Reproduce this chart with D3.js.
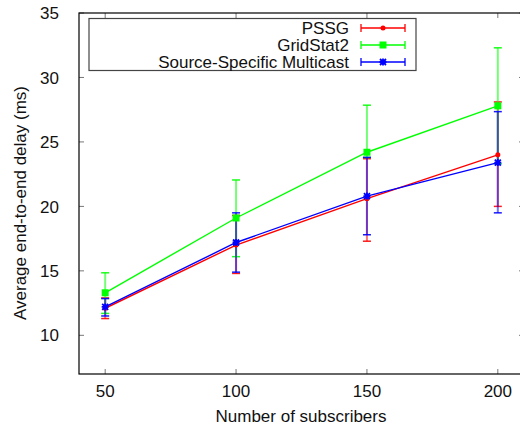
<!DOCTYPE html>
<html>
<head>
<meta charset="utf-8">
<script src="https://cdn.jsdelivr.net/npm/d3@7"></script>
<style>
  body { margin: 0; background: #fff; }
  svg { display: block; font-family: "Liberation Sans", Arial, sans-serif; }
</style>
</head>
<body>
<svg></svg>
<script>
"use strict";

var subscribers = [50, 100, 150, 200];
var xTicks = [50, 100, 150, 200];
var yTicks = [10, 15, 20, 25, 30, 35];

var pssgMean = [12.1, 17.0, 20.6, 24.0];
var pssgLow = [11.3, 14.8, 17.3, 20.0];
var pssgHigh = [12.9, 19.3, 23.7, 28.1];

var gridMean = [13.3, 19.1, 24.2, 27.8];
var gridLow = [11.7, 16.1, 23.8, 23.3];
var gridHigh = [14.85, 22.05, 27.85, 32.3];

var ssmMean = [12.2, 17.2, 20.8, 23.4];
var ssmLow = [11.5, 14.9, 17.8, 19.5];
var ssmHigh = [12.85, 19.5, 23.8, 27.35];

var seriesNames = ["PSSG", "GridStat2", "Source-Specific Multicast"];
var seriesColors = ["#ff0000", "#00ff00", "#0000ff"];

var width = 520,
    height = 429;

var margin = { left: 79, top: 13, right: -4, bottom: 55 };
var fontSize = 17;

var svg = d3.select("svg")
    .attr("width", width)
    .attr("height", height);

var x = d3.scaleLinear()
    .domain([40, 210])
    .range([margin.left, width - margin.right]);

var y = d3.scaleLinear()
    .domain([7, 35])
    .range([height - margin.bottom, margin.top]);

var series = seriesNames.map(function (name, i) {
    var mean = [pssgMean, gridMean, ssmMean][i],
        low = [pssgLow, gridLow, ssmLow][i],
        high = [pssgHigh, gridHigh, ssmHigh][i];
    return {
        name: name,
        color: seriesColors[i],
        kind: i,
        points: subscribers.map(function (s, j) {
            return { x: s, y: mean[j], lo: low[j], hi: high[j] };
        })
    };
});

// frame with inward ticks on all sides
var tickColor = "#777";
var tickLen = 5;

svg.append("g").selectAll("line").data(yTicks).enter().append("line")
    .attr("x1", x(40)).attr("x2", x(40) + tickLen)
    .attr("y1", function (d) { return y(d); }).attr("y2", function (d) { return y(d); })
    .attr("stroke", tickColor);
svg.append("g").selectAll("line").data(yTicks).enter().append("line")
    .attr("x1", x(210)).attr("x2", x(210) - tickLen)
    .attr("y1", function (d) { return y(d); }).attr("y2", function (d) { return y(d); })
    .attr("stroke", tickColor);
svg.append("g").selectAll("line").data(xTicks).enter().append("line")
    .attr("x1", function (d) { return x(d); }).attr("x2", function (d) { return x(d); })
    .attr("y1", y(7)).attr("y2", y(7) - tickLen)
    .attr("stroke", tickColor);
svg.append("g").selectAll("line").data(xTicks).enter().append("line")
    .attr("x1", function (d) { return x(d); }).attr("x2", function (d) { return x(d); })
    .attr("y1", y(35)).attr("y2", y(35) + tickLen)
    .attr("stroke", tickColor);

svg.append("rect")
    .attr("x", x(40)).attr("y", y(35))
    .attr("width", x(210) - x(40)).attr("height", y(7) - y(35))
    .attr("fill", "none")
    .attr("stroke", "#000")
    .attr("stroke-width", 1.2);

// tick labels
svg.append("g").selectAll("text").data(yTicks).enter().append("text")
    .attr("x", x(40) - 20)
    .attr("y", function (d) { return y(d); })
    .attr("dy", "0.36em")
    .attr("text-anchor", "end")
    .attr("font-size", fontSize)
    .attr("fill", "#111")
    .text(function (d) { return d; });

svg.append("g").selectAll("text").data(xTicks).enter().append("text")
    .attr("x", function (d) { return x(d); })
    .attr("y", 397)
    .attr("text-anchor", "middle")
    .attr("font-size", fontSize)
    .attr("fill", "#111")
    .text(function (d) { return d; });

// axis titles
svg.append("text")
    .attr("x", 301)
    .attr("y", 422)
    .attr("text-anchor", "middle")
    .attr("font-size", fontSize)
    .attr("fill", "#111")
    .text("Number of subscribers");

svg.append("text")
    .attr("transform", "translate(26," + 203 + ") rotate(-90)")
    .attr("text-anchor", "middle")
    .attr("font-size", fontSize)
    .attr("fill", "#111")
    .text("Average end-to-end delay (ms)");

var line = d3.line()
    .x(function (d) { return x(d.x); })
    .y(function (d) { return y(d.y); });

function drawMarker(g, kind, color) {
    if (kind === 0) {
        g.append("circle").attr("r", 2.5).attr("fill", color);
    } else if (kind === 1) {
        g.append("rect").attr("x", -3.5).attr("y", -3.5)
            .attr("width", 7).attr("height", 7).attr("fill", color);
    } else {
        g.append("path")
            .attr("d", "M-3,-3L3,3M-3,3L3,-3M0,-3.5L0,3.5M-3.5,0L3.5,0")
            .attr("stroke", color).attr("stroke-width", 1.8);
    }
}

var plot = svg.append("g");

// error bars first, semi transparent
series.forEach(function (s) {
    var eb = plot.append("g")
        .attr("stroke", s.color)
        .attr("stroke-opacity", 0.55)
        .attr("stroke-width", 2);
    s.points.forEach(function (p) {
        eb.append("line")
            .attr("x1", x(p.x)).attr("x2", x(p.x))
            .attr("y1", y(p.lo)).attr("y2", y(p.hi));
        [p.lo, p.hi].forEach(function (v) {
            eb.append("line")
                .attr("x1", x(p.x) - 4).attr("x2", x(p.x) + 4)
                .attr("y1", y(v)).attr("y2", y(v))
                .attr("stroke-opacity", 0.9)
                .attr("stroke-width", 1.5);
        });
    });
});

series.forEach(function (s) {
    plot.append("path")
        .datum(s.points)
        .attr("d", line)
        .attr("fill", "none")
        .attr("stroke", s.color)
        .attr("stroke-width", 1.4);
    s.points.forEach(function (p) {
        var g = plot.append("g")
            .attr("transform", "translate(" + x(p.x) + "," + y(p.y) + ")");
        drawMarker(g, s.kind, s.color);
    });
});

// legend
var legend = svg.append("g");
legend.append("rect")
    .attr("x", 89).attr("y", 18.5)
    .attr("width", 327).attr("height", 52)
    .attr("fill", "#fff")
    .attr("stroke", "#444")
    .attr("stroke-width", 1.2);

series.forEach(function (s, i) {
    var ly = 28 + i * 17;
    var row = legend.append("g");
    row.append("text")
        .attr("x", 349)
        .attr("y", ly)
        .attr("dy", "0.36em")
        .attr("text-anchor", "end")
        .attr("font-size", fontSize)
        .attr("fill", "#111")
        .text(s.name);
    row.append("line")
        .attr("x1", 361).attr("x2", 405)
        .attr("y1", ly).attr("y2", ly)
        .attr("stroke", s.color).attr("stroke-width", 1.3);
    [361, 405].forEach(function (cx) {
        row.append("line")
            .attr("x1", cx).attr("x2", cx)
            .attr("y1", ly - 4).attr("y2", ly + 4)
            .attr("stroke", s.color).attr("stroke-width", 1.3);
    });
    var g = row.append("g").attr("transform", "translate(383," + ly + ")");
    drawMarker(g, s.kind, s.color);
});
</script>
</body>
</html>
